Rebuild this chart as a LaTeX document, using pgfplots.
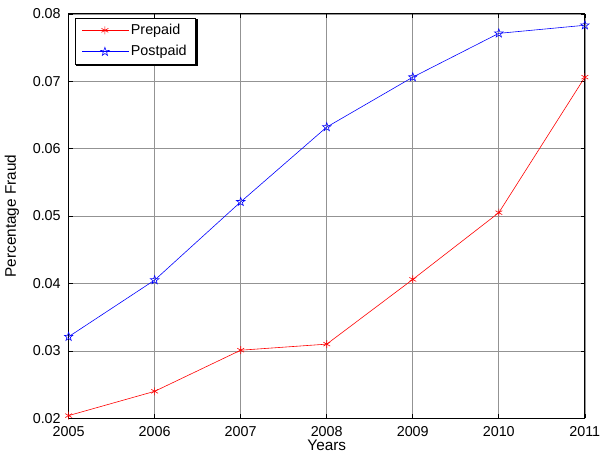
\documentclass[border=0pt]{standalone}
\usepackage{fontspec}
\setmainfont{Liberation Sans}
\usepackage{pgfplots}
\pgfplotsset{compat=1.18}
\pgfdeclareplotmark{pentagram}{%
  \pgfpathmoveto{\pgfpointpolar{90}{\pgfplotmarksize}}%
  \pgfpathlineto{\pgfpointpolar{126}{0.4\pgfplotmarksize}}%
  \pgfpathlineto{\pgfpointpolar{162}{\pgfplotmarksize}}%
  \pgfpathlineto{\pgfpointpolar{198}{0.4\pgfplotmarksize}}%
  \pgfpathlineto{\pgfpointpolar{234}{\pgfplotmarksize}}%
  \pgfpathlineto{\pgfpointpolar{270}{0.4\pgfplotmarksize}}%
  \pgfpathlineto{\pgfpointpolar{306}{\pgfplotmarksize}}%
  \pgfpathlineto{\pgfpointpolar{342}{0.4\pgfplotmarksize}}%
  \pgfpathlineto{\pgfpointpolar{18}{\pgfplotmarksize}}%
  \pgfpathlineto{\pgfpointpolar{54}{0.4\pgfplotmarksize}}%
  \pgfpathclose\pgfusepathqstroke}
\begin{document}
\fontsize{14.5bp}{17bp}\selectfont
\begin{tikzpicture}[x=1bp,y=1bp]
\begin{axis}[
  scale only axis,
  width=522bp, height=409bp,
  xmin=2005, xmax=2011, ymin=0.02, ymax=0.08,
  xtick={2005,...,2011},
  ytick={0.02,0.03,...,0.08},
  yticklabel style={/pgf/number format/fixed,/pgf/number format/precision=2,/pgf/number format/fixed zerofill, xshift=-3bp},
  xticklabel style={/pgf/number format/1000 sep={}, yshift=-3bp},
  /pgf/number format/assume math mode=true,
  scaled y ticks=false,
  grid=major,
  major grid style={gray!85, line width=0.6pt},
  axis line style={black, line width=0.8pt},
  tick style={black, line width=0.6pt},
  tick align=inside,
  major tick length=4bp,
  xtick pos=both, ytick pos=both,
  xlabel={Years}, ylabel={Percentage Fraud},
  label style={font=\fontsize{15.5bp}{18bp}\selectfont},
  xlabel style={yshift=6bp},
  ylabel style={yshift=4bp},
  legend style={name=leg, at={(6/522,1-4/409)}, anchor=north west, draw=black, line width=0.8pt,
    font=\fontsize{14.5bp}{17bp}\selectfont, row sep=5bp, inner xsep=7bp, inner ysep=4bp},
  legend cell align=left,
  legend image code/.code={\draw[#1] (0bp,0bp) -- (23bp,0bp) plot coordinates {(23bp,0bp)} -- (47bp,0bp);},
]
\addplot[red, line width=0.6pt, mark=asterisk, mark size=4bp, mark options={solid}]
 coordinates {(2005,0.0204) (2006,0.0240) (2007,0.0301) (2008,0.0310) (2009,0.0406) (2010,0.0505) (2011,0.0706)};
\addlegendentry{Prepaid}
\addplot[blue, line width=0.6pt, mark=pentagram, mark size=4.5bp]
 coordinates {(2005,0.0321) (2006,0.0405) (2007,0.0521) (2008,0.0632) (2009,0.0706) (2010,0.0771) (2011,0.0783)};
\addlegendentry{Postpaid}
\end{axis}
\draw[black, line width=1.4bp] ([xshift=0.9bp,yshift=-1.5bp]leg.north east) -- ([xshift=0.9bp,yshift=-0.9bp]leg.south east) -- ([xshift=1.5bp,yshift=-0.9bp]leg.south west);
\path ([yshift=4bp]current bounding box.north west);
\path ([yshift=-8bp]current bounding box.south);
\end{tikzpicture}
\end{document}
